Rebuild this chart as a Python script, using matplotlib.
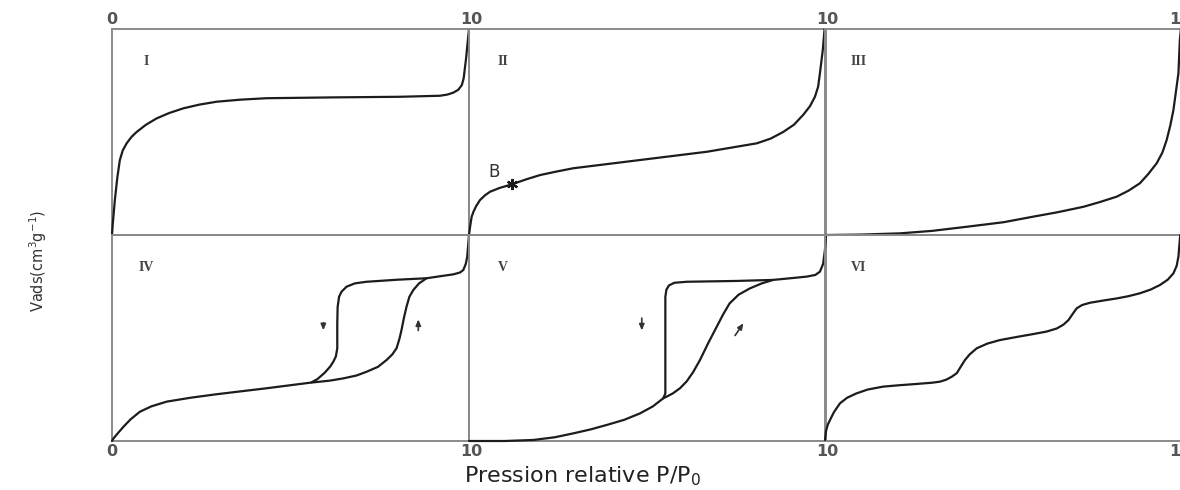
import numpy as np
import matplotlib.pyplot as plt

# relative pressure / adsorbed volume read per panel (both scaled 0..1)
type1_x = [0.0, 0.002, 0.005, 0.008, 0.015, 0.022, 0.03, 0.041, 0.055, 0.069, 0.095, 0.125, 0.16, 0.20, 0.245, 0.293, 0.36, 0.433, 0.62, 0.807, 0.919, 0.94, 0.956, 0.97, 0.98, 0.985, 0.989, 0.992, 0.995, 1.0]
type1_y = [0.0, 0.05, 0.11, 0.17, 0.28, 0.364, 0.41, 0.445, 0.477, 0.50, 0.535, 0.566, 0.592, 0.615, 0.633, 0.647, 0.657, 0.664, 0.668, 0.671, 0.676, 0.682, 0.691, 0.705, 0.728, 0.76, 0.817, 0.86, 0.914, 1.0]

type2_x = [0.0, 0.003, 0.0075, 0.013, 0.02, 0.031, 0.045, 0.059, 0.085, 0.12, 0.16, 0.199, 0.245, 0.292, 0.479, 0.666, 0.806, 0.845, 0.88, 0.91, 0.936, 0.955, 0.969, 0.978, 0.983, 0.991, 0.996]
type2_y = [0.0, 0.04, 0.089, 0.115, 0.14, 0.17, 0.193, 0.21, 0.228, 0.246, 0.27, 0.291, 0.308, 0.324, 0.364, 0.404, 0.445, 0.468, 0.50, 0.535, 0.583, 0.625, 0.671, 0.72, 0.785, 0.898, 1.0]

type3_x = [0.0, 0.10, 0.21, 0.30, 0.397, 0.50, 0.583, 0.65, 0.724, 0.77, 0.817, 0.85, 0.882, 0.905, 0.929, 0.945, 0.957, 0.967, 0.976, 0.99, 0.994, 0.997]
type3_y = [0.0, 0.002, 0.008, 0.02, 0.04, 0.062, 0.089, 0.11, 0.137, 0.16, 0.186, 0.215, 0.251, 0.295, 0.348, 0.40, 0.461, 0.53, 0.607, 0.785, 0.947, 1.0]

type4_ads_x = [0.0, 0.004, 0.015, 0.032, 0.052, 0.078, 0.11, 0.153, 0.22, 0.293, 0.433, 0.555, 0.61, 0.648, 0.685, 0.713, 0.745, 0.769, 0.785, 0.797, 0.805, 0.811, 0.818, 0.825, 0.833, 0.844, 0.86, 0.881, 0.92, 0.956, 0.975, 0.984, 0.991, 0.995, 1.0]
type4_ads_y = [0.0, 0.012, 0.035, 0.069, 0.105, 0.142, 0.168, 0.191, 0.21, 0.227, 0.256, 0.283, 0.293, 0.304, 0.318, 0.336, 0.36, 0.393, 0.42, 0.45, 0.495, 0.539, 0.60, 0.652, 0.70, 0.733, 0.765, 0.79, 0.80, 0.809, 0.818, 0.83, 0.86, 0.895, 1.0]
type4_des_x = [0.881, 0.80, 0.713, 0.68, 0.657, 0.643, 0.636, 0.632, 0.631, 0.631, 0.627, 0.62, 0.611, 0.595, 0.575, 0.559]
type4_des_y = [0.79, 0.783, 0.773, 0.765, 0.749, 0.725, 0.70, 0.65, 0.571, 0.45, 0.41, 0.385, 0.361, 0.33, 0.30, 0.285]

type5_ads_x = [0.0, 0.10, 0.18, 0.24, 0.292, 0.34, 0.386, 0.435, 0.479, 0.515, 0.544, 0.57, 0.591, 0.61, 0.628, 0.647, 0.67, 0.694, 0.712, 0.73, 0.755, 0.787, 0.82, 0.852, 0.90, 0.946, 0.97, 0.983, 0.992, 0.997, 1.0]
type5_ads_y = [0.0, 0.0, 0.005, 0.018, 0.037, 0.056, 0.078, 0.103, 0.134, 0.168, 0.207, 0.23, 0.256, 0.29, 0.335, 0.393, 0.475, 0.555, 0.615, 0.668, 0.71, 0.741, 0.765, 0.782, 0.79, 0.798, 0.806, 0.822, 0.86, 0.927, 1.0]
type5_des_x = [0.852, 0.75, 0.61, 0.575, 0.56, 0.553, 0.55, 0.55, 0.55, 0.544]
type5_des_y = [0.782, 0.777, 0.773, 0.768, 0.755, 0.735, 0.70, 0.458, 0.231, 0.207]

type6_x = [0.0, 0.003, 0.008, 0.014, 0.025, 0.042, 0.062, 0.088, 0.12, 0.163, 0.21, 0.257, 0.30, 0.322, 0.34, 0.355, 0.369, 0.38, 0.392, 0.405, 0.425, 0.455, 0.49, 0.54, 0.583, 0.62, 0.649, 0.668, 0.682, 0.695, 0.705, 0.72, 0.742, 0.78, 0.817, 0.85, 0.882, 0.912, 0.938, 0.96, 0.976, 0.985, 0.99, 0.995]
type6_y = [0.005, 0.05, 0.08, 0.102, 0.14, 0.183, 0.21, 0.231, 0.25, 0.264, 0.271, 0.277, 0.283, 0.288, 0.298, 0.312, 0.329, 0.36, 0.393, 0.42, 0.45, 0.473, 0.49, 0.506, 0.519, 0.531, 0.546, 0.565, 0.587, 0.62, 0.644, 0.66, 0.671, 0.682, 0.692, 0.703, 0.717, 0.735, 0.757, 0.783, 0.814, 0.85, 0.895, 1.0]

panel_names = ["I", "II", "III", "IV", "V", "VI"]
top_ticks = ["0", "10", "10", "1"]
bottom_ticks = ["0", "10", "10", "1"]

point_B = (0.12, 0.246)

# hysteresis direction arrows: (x0, y0, x1, y1)
arrows_IV = [(0.592, 0.587, 0.592, 0.524), (0.858, 0.523, 0.858, 0.604)]
arrows_V = [(0.484, 0.61, 0.484, 0.523), (0.741, 0.501, 0.773, 0.583)]

W, H = 1180, 490
fig = plt.figure(figsize=(W / 100, H / 100), dpi=100)

col_left = [112, 469, 825]
col_w = 357
row_top = [29, 235]
row_h = 206

frame_col = "#8a8a8a"
line_col = "#1c1c1c"


def px(x, y):
    return x / W, 1 - y / H


axes = []
for r in range(2):
    for c in range(3):
        l, b = px(col_left[c], row_top[r] + row_h)
        ax = fig.add_axes([l, b, col_w / W, row_h / H])
        ax.set_xlim(0, 1)
        ax.set_ylim(0, 1)
        ax.set_xticks([])
        ax.set_yticks([])
        for s in ax.spines.values():
            s.set_color(frame_col)
            s.set_linewidth(1.4)
        ax.patch.set_alpha(0)
        axes.append(ax)

kw = dict(color=line_col, lw=1.6, clip_on=False, solid_capstyle="round", solid_joinstyle="round", zorder=5)
axes[0].plot(type1_x, type1_y, **kw)
axes[1].plot(type2_x, type2_y, **kw)
axes[2].plot(type3_x, type3_y, **kw)
axes[3].plot(type4_ads_x, type4_ads_y, **kw)
axes[3].plot(type4_des_x, type4_des_y, **kw)
axes[4].plot(type5_ads_x, type5_ads_y, **kw)
axes[4].plot(type5_des_x, type5_des_y, **kw)
axes[5].plot(type6_x, type6_y, **kw)

# point B on type II
axes[1].plot(*point_B, marker=(6, 2, 0), ms=8, mew=1.6, color=line_col, zorder=6)
axes[1].text(point_B[0] - 0.05, point_B[1] + 0.015, "B", fontsize=12, color="#333333",
             ha="center", va="bottom")

for ax, arr in ((axes[3], arrows_IV), (axes[4], arrows_V)):
    for x0, y0, x1, y1 in arr:
        ax.annotate("", xy=(x1, y1), xytext=(x0, y0),
                    arrowprops=dict(arrowstyle="-|>,head_length=0.35,head_width=0.15",
                                    color="#333333", lw=1.2))

# roman numerals in the upper-left of each panel
for ax, name in zip(axes, panel_names):
    ax.text(0.095, 0.84, name, transform=ax.transAxes, fontsize=10,
            family="Liberation Serif", weight="bold", color="#444444",
            ha="center", va="center")

tick_x = [112, 471, 827]
for x, t in zip(tick_x, top_ticks[:3]):
    fx, fy = px(x, 20)
    fig.text(fx, fy, t, fontsize=11.5, weight="bold", color="#555555", ha="center", va="center")
for x, t in zip(tick_x, bottom_ticks[:3]):
    fx, fy = px(x, 451)
    fig.text(fx, fy, t, fontsize=11.5, weight="bold", color="#555555", ha="center", va="center")
# the closing "1" sits right at the figure edge
fx, fy = px(1180, 20)
fig.text(fx, fy, top_ticks[3], fontsize=11.5, weight="bold", color="#555555", ha="right", va="center")
fx, fy = px(1180, 451)
fig.text(fx, fy, bottom_ticks[3], fontsize=11.5, weight="bold", color="#555555", ha="right", va="center")

fx, fy = px(38, 261)
fig.text(fx, fy, "Vads(cm$^3$g$^{-1}$)", rotation=90, fontsize=10.5,
         family="Liberation Sans Narrow", color="#333333", ha="center", va="center")

fx, fy = px(583, 488)
fig.text(fx, fy, "Pression relative P/P$_0$", fontsize=16, color="#222222",
         ha="center", va="bottom")

fig.savefig("out.png", dpi=100)
